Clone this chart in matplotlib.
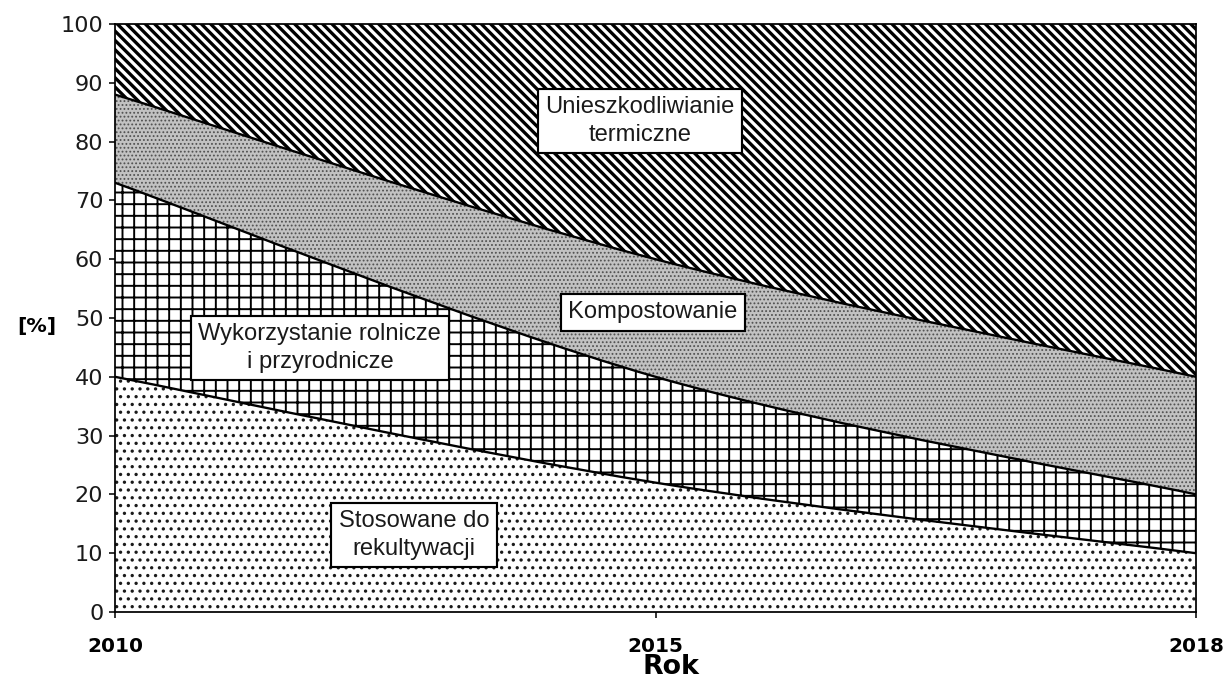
import numpy as np
import matplotlib
matplotlib.use("Agg")
import matplotlib.pyplot as plt
from matplotlib.path import Path
from matplotlib.patches import PathPatch

# ---- data (percent shares, stacked) ----
years = ["2010", "2015", "2018"]
rekultywacja = [40, 22, 10]      # Stosowane do rekultywacji
rolnicze = [33, 18, 10]          # Wykorzystanie rolnicze i przyrodnicze
kompostowanie = [15, 20, 20]     # Kompostowanie
termiczne = [12, 40, 60]         # Unieszkodliwianie termiczne
y_ticks = list(range(0, 101, 10))

series = [rekultywacja, rolnicze, kompostowanie, termiczne]
labels = ["Stosowane do\nrekultywacji",
          "Wykorzystanie rolnicze\ni przyrodnicze",
          "Kompostowanie",
          "Unieszkodliwianie\ntermiczne"]

# ---- styles ----
styles = [
    dict(hatch="...", fc="white", ec="#1a1a1a", hlw=0.9),
    dict(hatch="++", fc="white", ec="black", hlw=1.0),
    dict(hatch="......", fc="#c2c2c2", ec="#505050", hlw=0.6),
    dict(hatch="\\" * 5, fc="white", ec="black", hlw=1.7),
]
label_pos = [(0.553, 13.1), (0.379, 44.9), (0.995, 51.0), (0.971, 83.5)]

plt.rcParams["hatch.linewidth"] = 1.0

DPI = 140
W, H = 1228, 680
fig = plt.figure(figsize=(W / DPI, H / DPI), dpi=DPI)
ax = fig.add_axes([115 / W, 1 - 612 / H, (1196 - 115) / W, (612 - 24) / H])

x = np.arange(len(years), dtype=float)
stack = np.vstack([np.zeros(len(years))] + [np.asarray(s, float) for s in series])
cum = np.cumsum(stack, axis=0)


def bezier(xs, ys):
    """Smoothed (Catmull-Rom style) cubic Bezier segments through the points."""
    pts = np.column_stack([xs, ys])
    n = len(pts)
    verts = []
    for i in range(n - 1):
        p0 = pts[i - 1] if i > 0 else pts[i]
        p1, p2 = pts[i], pts[i + 1]
        p3 = pts[i + 2] if i + 2 < n else pts[i + 1]
        verts += [p1 + (p2 - p0) / 6.0, p2 - (p3 - p1) / 6.0, p2]
    return pts[0], verts


def curve_path(xs, ys):
    start, segs = bezier(xs, ys)
    return [start] + segs, [Path.MOVETO] + [Path.CURVE4] * len(segs)


for k in range(len(series)):
    lower = cum[k]
    upper = cum[k + 1]
    s0, useg = bezier(x, upper)
    l0, lseg = bezier(x[::-1], lower[::-1])
    verts = [s0] + useg + [l0] + lseg + [s0]
    codes = ([Path.MOVETO] + [Path.CURVE4] * len(useg) + [Path.LINETO]
             + [Path.CURVE4] * len(lseg) + [Path.CLOSEPOLY])
    st = styles[k]
    with plt.rc_context({"hatch.linewidth": st["hlw"]}):
        patch = PathPatch(Path(verts, codes), facecolor=st["fc"], edgecolor=st["ec"],
                          hatch=st["hatch"], linewidth=0, zorder=1)
    if hasattr(patch, "set_hatch_linewidth"):
        patch.set_hatch_linewidth(st["hlw"])
    ax.add_patch(patch)

# boundary lines
for k in range(1, len(series)):
    v, c = curve_path(x, cum[k])
    ax.add_patch(PathPatch(Path(v, c), fill=False, edgecolor="black", linewidth=1.2, zorder=2))

# labels in boxes
for (lx, ly), txt in zip(label_pos, labels):
    ax.text(lx, ly, txt, ha="center", va="center", fontsize=12.2,
            family="Liberation Sans", color="#1a1a1a", linespacing=1.3, zorder=5,
            bbox=dict(boxstyle="square,pad=0.32", fc="white", ec="black", lw=1.1))

ax.set_xlim(0, len(years) - 1)
ax.set_ylim(0, 100)
ax.set_xticks(x)
ax.set_xticklabels(years, fontsize=10.3, fontweight="bold", family="DejaVu Sans")
ax.set_yticks(y_ticks)
ax.set_yticklabels([str(v) for v in y_ticks], fontsize=11.5, family="DejaVu Sans",
                   color="#1a1a1a")
ax.tick_params(axis="x", direction="out", length=3, width=0.8, pad=10)
ax.tick_params(axis="y", direction="out", length=3, width=0.8, pad=3)
for sp in ax.spines.values():
    sp.set_linewidth(0.9)
    sp.set_color("black")
    sp.set_zorder(6)

fig.text(671 / W, 1 - 667 / H, "Rok", ha="center", va="center", fontsize=13.8,
         fontweight="bold", family="DejaVu Sans")
fig.text(37 / W, 1 - 326 / H, "[%]", ha="center", va="center", fontsize=10.5,
         fontweight="bold", family="DejaVu Sans")

fig.savefig("out.png", dpi=DPI)
